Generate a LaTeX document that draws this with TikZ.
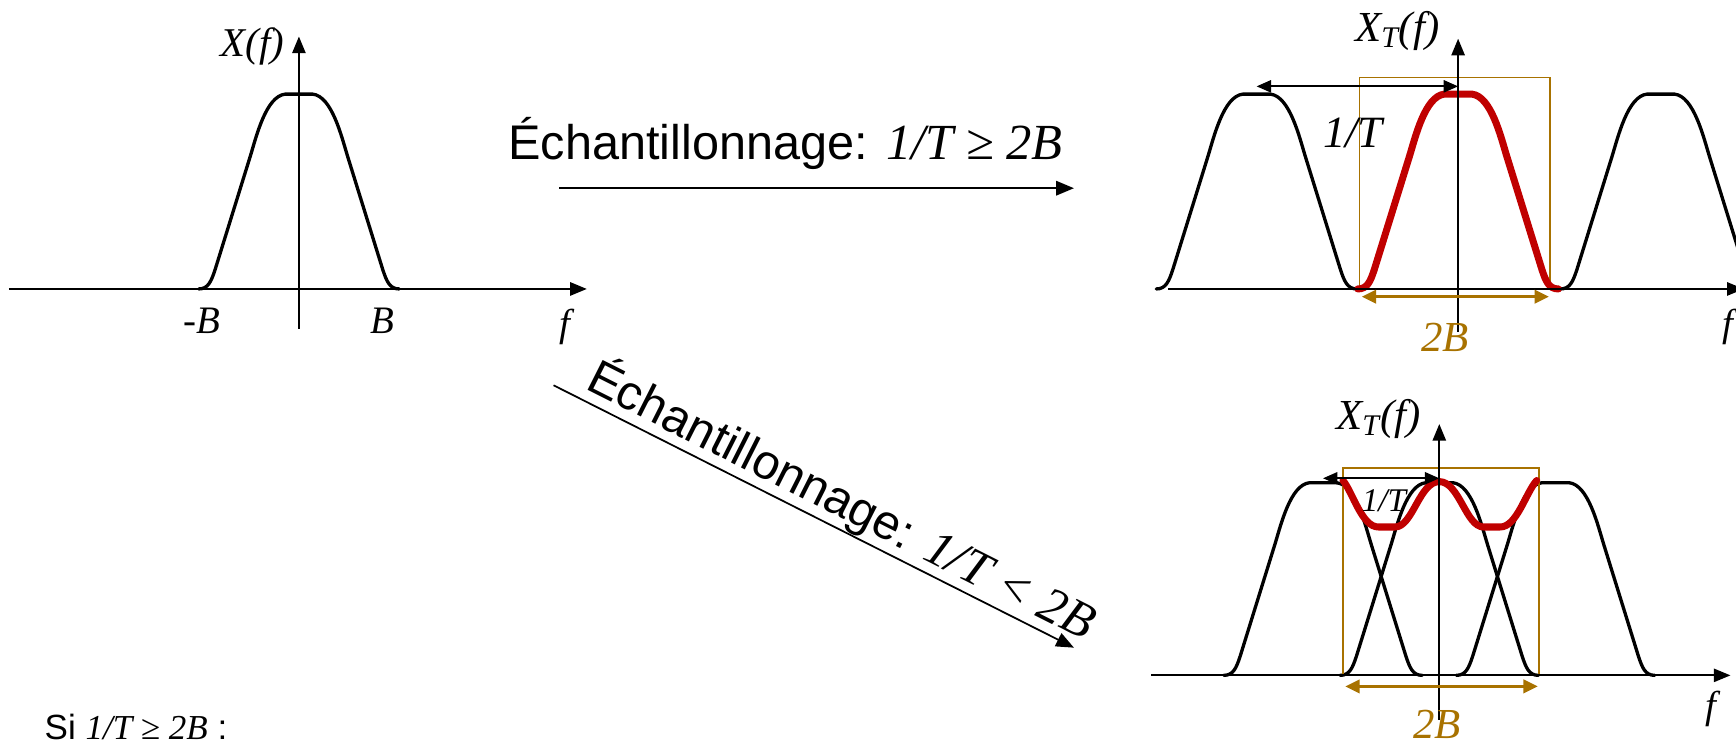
\documentclass[tikz,border=0pt]{standalone}
\usepackage{fontspec}
\setmainfont{Liberation Serif}
\setsansfont{Liberation Sans}
\usetikzlibrary{arrows.meta}
\definecolor{goldbar}{RGB}{168,114,0}
\definecolor{redspec}{RGB}{192,0,0}
\tikzset{bump/.pic={%
  \draw[pic actions] (-1.03,0) .. controls (-0.93,0) and (-0.9,0.04) .. (-0.86,0.1)
    -- (-0.5,0.68) .. controls (-0.44,0.777) and (-0.34,0.99) .. (-0.14,1) -- (0.14,1)
    .. controls (0.34,0.99) and (0.44,0.777) .. (0.5,0.68) -- (0.86,0.1)
    .. controls (0.9,0.04) and (0.93,0) .. (1.03,0);}}
\begin{document}
\begin{tikzpicture}[x=0.02cm, y=0.02cm,
  ax/.style={-{Triangle[length=3mm,width=2.4mm]}, line width=0.9pt},
  spec/.style={line width=1.7pt, line join=round, line cap=round},
  band/.style={spec, color=redspec, line width=3.6pt},
  win/.style={draw=goldbar, line width=0.9pt},
  wid/.style={{Triangle[length=2.6mm,width=2.4mm]}-{Triangle[length=2.6mm,width=2.4mm]},
              draw=goldbar, line width=1.5pt},
  per/.style={{Triangle[length=2.6mm,width=2.2mm]}-{Triangle[length=2.6mm,width=2.2mm]},
              line width=0.9pt},
  samp/.style={-{Triangle[length=3.2mm,width=2.6mm]}, line width=0.9pt},
  lab/.style={font=\fontsize{20}{24}\selectfont\itshape, inner sep=1pt},
  big/.style={font=\fontsize{25}{30}\selectfont\sffamily, inner sep=0pt}]
\useasboundingbox (0,0) rectangle (1568,673);

% spectre du signal
\pic[spec, xscale=88, yscale=176] at (270,412) {bump};
\coordinate (xl) at (8,412);    \coordinate (xr) at (530,412);
\coordinate (yb) at (270,376);  \coordinate (yt) at (270,640);
\draw[ax] (xl) -- (xr);
\draw[ax] (yb) -- (yt);
\node[lab, font=\fontsize{21}{25}\selectfont\itshape] (xf) at (228,631) {X(f)};
\node[lab] (mb) at (182,383) {-B};
\node[lab] (pb) at (345,383) {B};
\node[lab] (f0) at (510,378) {f};

% les deux echantillonnages
\coordinate (hs) at (505,503);  \coordinate (he) at (970,503);
\draw[samp] (hs) -- node[big, above=0.32cm, pos=0.44] (ok)
  {Échantillonnage: {\rmfamily\itshape\fontsize{26}{30}\selectfont 1/T ≥ 2B}} (he);
\coordinate (ds) at (500,325);  \coordinate (de) at (970,88);
\draw[samp] (ds) -- node[big, sloped, above=0pt, pos=0.53] (ko)
  {Échantillonnage: {\rmfamily\itshape\fontsize{26}{30}\selectfont 1/T < 2B}} (de);

% (a) 1/T >= 2B : pas de recouvrement
\foreach \c in {1135,1500}
  \pic[spec, xscale=88, yscale=176] at (\c,412) {bump};
\draw[win] (1228,412) |- (1400,603) -- (1400,412);
\pic[band, xscale=88, yscale=176] at (1317,412) {bump};
\coordinate (axl) at (1055,412); \coordinate (axr) at (1575,412);
\coordinate (ayb) at (1317,373); \coordinate (ayt) at (1317,638);
\draw[ax] (axl) -- (axr);
\draw[ax] (ayb) -- (ayt);
\coordinate (ap0) at (1135,595); \coordinate (ap1) at (1317,595);
\draw[per] (ap0) -- (ap1);
\coordinate (aw0) at (1230,405); \coordinate (aw1) at (1399,405);
\draw[wid] (aw0) -- (aw1);
\node[lab, font=\fontsize{23}{27}\selectfont\itshape] (aT) at (1222,553) {1/T};
\node[lab, font=\fontsize{22}{26}\selectfont\itshape, text=goldbar] (aB) at (1305,368) {2B};
\node[lab, font=\fontsize{22}{26}\selectfont\itshape] (aX) at (1262,645) {X\textsubscript{T}(f)};
\node[lab] (af) at (1561,378) {f};

% (b) 1/T < 2B : recouvrement
\foreach \c in {1195,1300,1405}
  \pic[spec, xscale=87, yscale=174] at (\c,63) {bump};
\draw[win] (1213,63) |- (1390,250) -- (1390,63);
\draw[band] (1213,239) .. controls (1222,228) and (1230,197) .. (1245,197) -- (1260,197)
  .. controls (1276,197) and (1282,238) .. (1300,238)
  .. controls (1318,238) and (1324,197) .. (1340,197) -- (1355,197)
  .. controls (1370,197) and (1378,228) .. (1388,239);
\coordinate (bxl) at (1040,63);  \coordinate (bxr) at (1563,63);
\coordinate (byb) at (1300,23);  \coordinate (byt) at (1300,290);
\draw[ax] (bxl) -- (bxr);
\draw[ax] (byb) -- (byt);
\coordinate (bp0) at (1195,241); \coordinate (bp1) at (1300,241);
\draw[per] (bp0) -- (bp1);
\coordinate (bw0) at (1215,53);  \coordinate (bw1) at (1389,53);
\draw[wid] (bw0) -- (bw1);
\node[lab, font=\fontsize{17}{20}\selectfont\itshape] (bT) at (1250,221) {1/T};
\node[lab, font=\fontsize{22}{26}\selectfont\itshape, text=goldbar] (bB) at (1298,19) {2B};
\node[lab, font=\fontsize{22}{26}\selectfont\itshape] (bX) at (1245,295) {X\textsubscript{T}(f)};
\node[lab] (bf) at (1545,33) {f};

\node[anchor=west, inner sep=0pt, font=\fontsize{18}{22}\selectfont\sffamily] (si) at (40,16)
  {Si {\rmfamily\itshape 1/T ≥ 2B} :};
\end{tikzpicture}
\end{document}
